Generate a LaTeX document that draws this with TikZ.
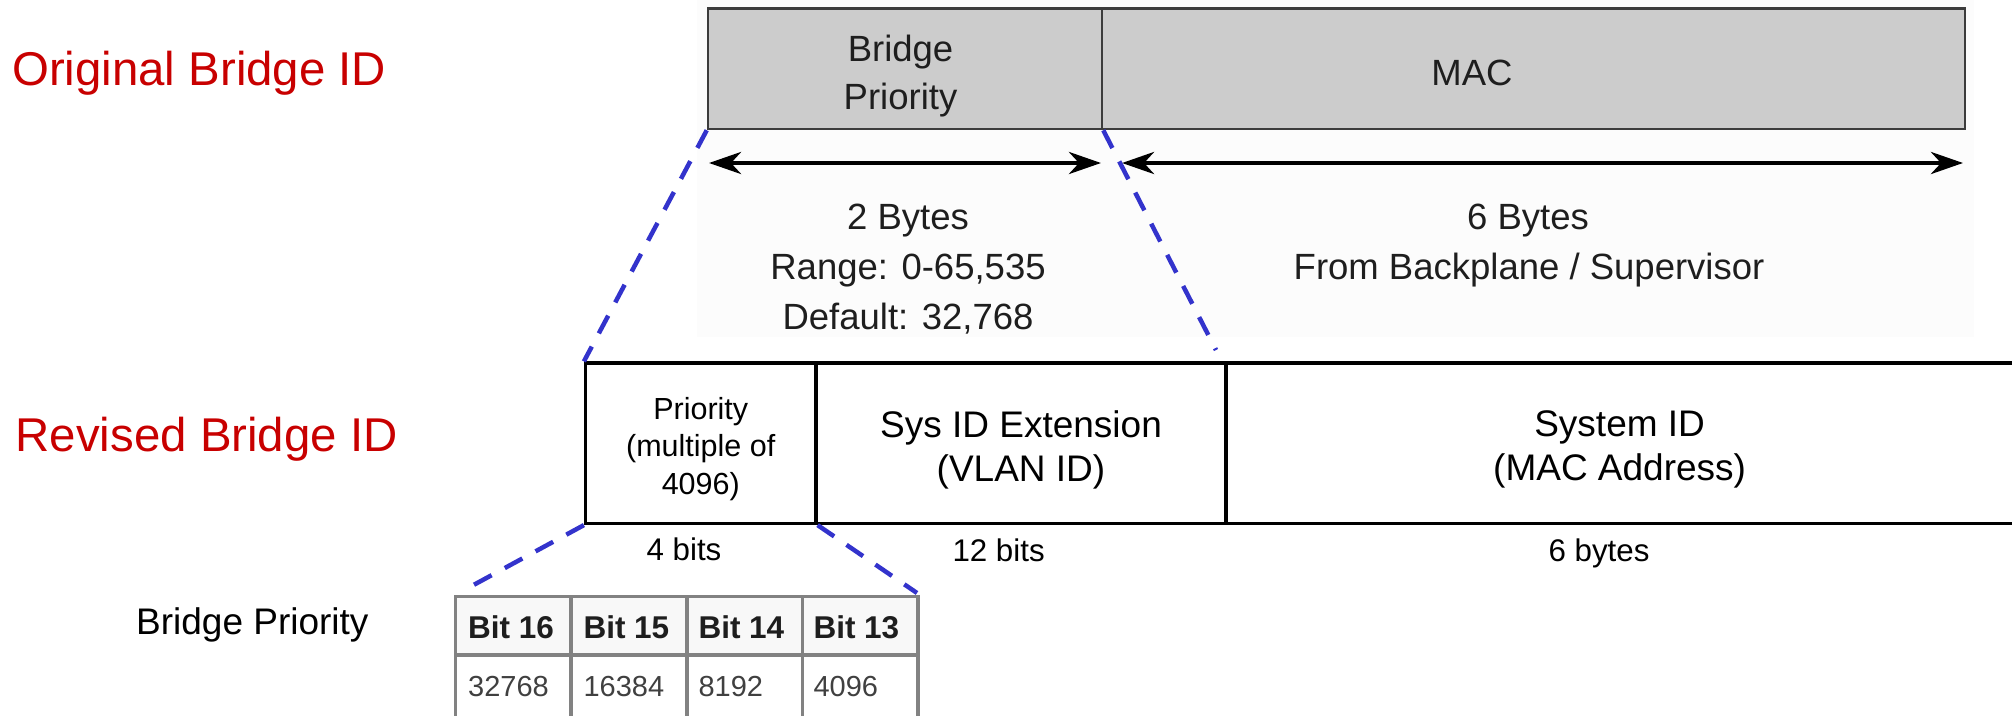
\documentclass[tikz,border=0pt]{standalone}
\usepackage{fontspec}
\setmainfont{Liberation Sans}
\usetikzlibrary{arrows.meta}
\definecolor{idred}{RGB}{200,0,0}
\definecolor{dashblue}{RGB}{51,51,204}
\definecolor{boxgray}{RGB}{204,204,204}
\definecolor{boxedge}{RGB}{60,60,60}
\definecolor{tblgray}{RGB}{130,130,130}
\definecolor{tblhead}{RGB}{248,248,248}
\definecolor{bgtint}{RGB}{252,252,252}
\definecolor{darktext}{RGB}{30,30,30}
\tikzset{
  graycell/.style={draw=boxedge, fill=boxgray, line width=2.5pt, inner sep=0, minimum height=120.7},
  idcell/.style={draw=black, line width=3.2pt, inner sep=0, minimum height=160.5},
  tcell/.style={draw=tblgray, line width=3.5pt, inner sep=0, minimum width=115.5},
  txt/.style={inner sep=0, anchor=base},
  redlbl/.style={inner sep=0, anchor=base west, text=idred, font=\fontsize{47.4}{56}\selectfont},
  topfont/.style={text=darktext, font=\fontsize{36.5}{44}\selectfont},
  midfont/.style={text=black, font=\fontsize{37}{44}\selectfont},
  smallfont/.style={text=black, font=\fontsize{30.5}{37}\selectfont},
  widthfont/.style={text=black, font=\fontsize{31.3}{37}\selectfont},
  headfont/.style={text=darktext, font=\fontsize{31.5}{38}\selectfont\bfseries},
  valfont/.style={text=darktext!85, font=\fontsize{29}{35}\selectfont},
  dimarrow/.style={line width=4.5pt, black, {Stealth[length=32pt,width=22pt,inset=10pt]}-{Stealth[length=32pt,width=22pt,inset=10pt]}},
  zoomln/.style={dashblue, line width=4.5pt, dash pattern=on 20pt off 15pt}
}
\begin{document}
\begin{tikzpicture}[x=1pt,y=-1pt]
\useasboundingbox (0,0) rectangle (2012,715);
\clip (0,0) rectangle (2012,715);
\fill[bgtint] (697,0) rectangle (1974,337);

% left labels
\node[redlbl] (orig) at (12,85) {Original Bridge ID};
\node[redlbl] (rev) at (15.5,451.7) {Revised Bridge ID};
\node[txt, anchor=base west, font=\fontsize{37}{44}\selectfont] (bplbl) at (136,634) {Bridge Priority};

% original bridge id
\node[graycell, minimum width=394] (bp) at (905,68.65) {};
\node[graycell, minimum width=863] (mac) at (1533.5,68.65) {};
\node[txt, topfont] (bpt1) at (900.5,61) {Bridge};
\node[txt, topfont] (bpt2) at (900.5,109.3) {Priority};
\node[txt, topfont] (mact) at (1472,85.5) {MAC};

% dimension arrows
\coordinate (a1l) at (709,163);
\coordinate (a1r) at (1101,163);
\coordinate (a2l) at (1122,163);
\coordinate (a2r) at (1963,163);
\draw[dimarrow] (a1l) -- (a1r);
\draw[dimarrow] (a2l) -- (a2r);

\node[txt, topfont] (b2a) at (908,229) {2 Bytes};
\node[txt, topfont] (b2b) at (908,279) {Range: 0-65,535};
\node[txt, topfont] (b2c) at (908,329) {Default: 32,768};
\node[txt, topfont] (b6a) at (1528,229) {6 Bytes};
\node[txt, topfont] (b6b) at (1529,279) {From Backplane / Supervisor};

% revised bridge id
\node[idcell, minimum width=230.5] (pri) at (700.75,443.25) {};
\node[idcell, minimum width=410] (ext) at (1021,443.25) {};
\node[idcell, minimum width=804] (sys) at (1628,443.25) {};

\node[txt, smallfont] (pr1) at (700.75,419.3) {Priority};
\node[txt, smallfont] (pr2) at (700.75,456) {(multiple of};
\node[txt, smallfont] (pr3) at (700.75,494) {4096)};
\node[txt, midfont] (ex1) at (1021,437.3) {Sys ID Extension};
\node[txt, midfont] (ex2) at (1021,481) {(VLAN ID)};
\node[txt, midfont] (sy1) at (1619.6,436.5) {System ID};
\node[txt, midfont] (sy2) at (1619.6,480) {(MAC Address)};

\node[txt, widthfont] (w4) at (684,560.5) {4 bits};
\node[txt, widthfont] (w12) at (998.6,561) {12 bits};
\node[txt, widthfont] (w6) at (1599,561) {6 bytes};

% zoom lines
\coordinate (d2e) at (1216,350);
\coordinate (d3e) at (468,588);
\coordinate (d4e) at (917,593);
\draw[zoomln] (bp.south west) -- (pri.north west);
\draw[zoomln] (bp.south east) -- (d2e);
\draw[zoomln] (pri.south west) -- (d3e);
\draw[zoomln] (pri.south east) -- (d4e);

% table
\node[tcell, fill=tblhead, minimum height=58.5] (h16) at (513.25,625.75) {};
\node[tcell, fill=tblhead, minimum height=58.5] (h15) at (629.25,625.75) {};
\node[tcell, fill=tblhead, minimum height=58.5] (h14) at (745,625.75) {};
\node[tcell, fill=tblhead, minimum height=58.5] (h13) at (860,625.75) {};
\node[tcell, fill=white, minimum height=70] (v16) at (513.25,690) {};
\node[tcell, fill=white, minimum height=70] (v15) at (629.25,690) {};
\node[tcell, fill=white, minimum height=70] (v14) at (745,690) {};
\node[tcell, fill=white, minimum height=70] (v13) at (860,690) {};

\node[txt, anchor=base west, headfont] (th16) at (468,638.3) {Bit 16};
\node[txt, anchor=base west, headfont] (th15) at (583.3,638.3) {Bit 15};
\node[txt, anchor=base west, headfont] (th14) at (698.3,638.3) {Bit 14};
\node[txt, anchor=base west, headfont] (th13) at (813.3,638.3) {Bit 13};
\node[txt, anchor=base west, valfont] (tv16) at (468,696.7) {32768};
\node[txt, anchor=base west, valfont] (tv15) at (583.3,696.7) {16384};
\node[txt, anchor=base west, valfont] (tv14) at (698.3,696.7) {8192};
\node[txt, anchor=base west, valfont] (tv13) at (813.3,696.7) {4096};
\end{tikzpicture}
\end{document}
